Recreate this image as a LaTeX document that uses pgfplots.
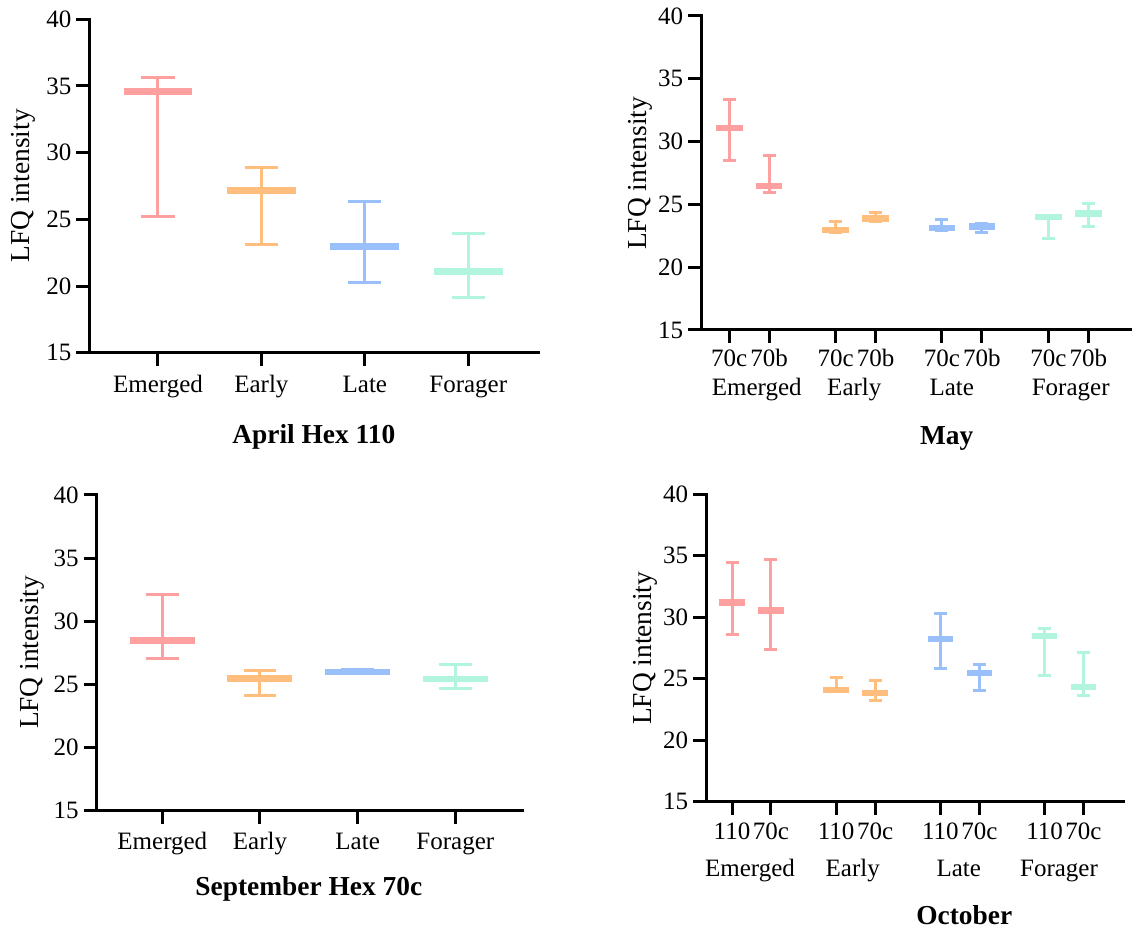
\documentclass[border=0pt]{standalone}
\usepackage{pgfplots}
\pgfplotsset{compat=1.18}
\usepackage{fontspec}
\setmainfont{Liberation Serif}
\definecolor{cpink}{RGB}{255,160,160}
\definecolor{corange}{RGB}{255,190,125}
\definecolor{cblue}{RGB}{153,192,250}
\definecolor{cmint}{RGB}{178,245,222}
\newcommand\tickfont{\fontsize{12.5}{15}\selectfont}
\newcommand\labfont{\fontsize{13.7}{16}\selectfont}
\pgfplotsset{
  panel/.style={
    scale only axis, clip=false,
    axis x line*=bottom, axis y line*=left,
    axis line style={-, line width=1.5pt, black, line cap=rect},
    ymin=15, ymax=40, ytick={15,20,25,30,35,40},
    tick align=outside, major tick length=6.5pt,
    every tick/.style={black, line width=1.5pt},
    tick label style={font=\tickfont, black},
    /pgf/number format/assume math mode=true,
    yticklabel style={inner sep=0pt, xshift=-2.3pt},
    minor tick num=0,
  },
  item/.style n args={3}{only marks, color=#1, mark=-, mark size=#2,
    mark options={line width=3.2pt, solid},
    error bars/.cd, y dir=both, y explicit,
    error bar style={line width=1.5pt, #1},
    error mark options={rotate=90, line width=1.5pt, mark size=#3, #1}},
}
\begin{document}
\begin{tikzpicture}
\useasboundingbox (0,0) rectangle (567.5pt,465.5pt);

% ---------------- April Hex 110 ----------------
\begin{axis}[panel, at={(44.65pt,289.15pt)}, anchor=south west, width=224.5pt, height=166.7pt,
  xmin=-0.664, xmax=3.677, xtick={0,1,2,3}, xticklabels={Emerged,Early,Late,Forager},
  xticklabel style={anchor=base, yshift=-13.65pt}]
\addplot[item={cpink}{17.2pt}{8.3pt}] table[x=x, y=m, y error plus expr=\thisrow{h}-\thisrow{m}, y error minus expr=\thisrow{m}-\thisrow{l}] {
x l m h
0 25.2 34.58 35.65
};
\addplot[item={corange}{17.2pt}{8.3pt}] table[x=x, y=m, y error plus expr=\thisrow{h}-\thisrow{m}, y error minus expr=\thisrow{m}-\thisrow{l}] {
x l m h
1 23.15 27.15 28.9
};
\addplot[item={cblue}{17.2pt}{8.3pt}] table[x=x, y=m, y error plus expr=\thisrow{h}-\thisrow{m}, y error minus expr=\thisrow{m}-\thisrow{l}] {
x l m h
2 20.25 22.95 26.35
};
\addplot[item={cmint}{17.2pt}{8.3pt}] table[x=x, y=m, y error plus expr=\thisrow{h}-\thisrow{m}, y error minus expr=\thisrow{m}-\thisrow{l}] {
x l m h
3 19.125 21.1 23.95
};
\end{axis}

% ---------------- May ----------------
\begin{axis}[panel, at={(350.5pt,300.5pt)}, anchor=south west, width=214.5pt, height=157pt,
  xmin=-0.4526, xmax=3.58,
  xtick={-0.1877,0.1877,0.8123,1.1877,1.8123,2.1877,2.8123,3.1877},
  xticklabels={70c,70b,70c,70b,70c,70b,70c,70b},
  xticklabel style={anchor=base, yshift=-11.85pt}]
\addplot[item={cpink}{6.67pt}{3.25pt}] table[x=x, y=m, y error plus expr=\thisrow{h}-\thisrow{m}, y error minus expr=\thisrow{m}-\thisrow{l}] {
x l m h
-0.1877 28.51 31.06 33.39
0.1877 25.96 26.47 28.91
};
\addplot[item={corange}{6.67pt}{3.25pt}] table[x=x, y=m, y error plus expr=\thisrow{h}-\thisrow{m}, y error minus expr=\thisrow{m}-\thisrow{l}] {
x l m h
0.8123 22.75 22.96 23.65
1.1877 23.63 23.89 24.34
};
\addplot[item={cblue}{6.67pt}{3.25pt}] table[x=x, y=m, y error plus expr=\thisrow{h}-\thisrow{m}, y error minus expr=\thisrow{m}-\thisrow{l}] {
x l m h
1.8123 22.95 23.12 23.76
2.1877 22.78 23.23 23.49
};
\addplot[item={cmint}{6.67pt}{3.25pt}] table[x=x, y=m, y error plus expr=\thisrow{h}-\thisrow{m}, y error minus expr=\thisrow{m}-\thisrow{l}] {
x l m h
2.8123 22.27 24.0 24.1
3.1877 23.25 24.26 25.11
};
\end{axis}

% ---------------- September Hex 70c ----------------
\begin{axis}[panel, at={(48.35pt,60.15pt)}, anchor=south west, width=213pt, height=157.85pt,
  xmin=-0.672, xmax=3.69, xtick={0,1,2,3}, xticklabels={Emerged,Early,Late,Forager},
  xticklabel style={anchor=base, yshift=-12.8pt}]
\addplot[item={cpink}{16.25pt}{8.1pt}] table[x=x, y=m, y error plus expr=\thisrow{h}-\thisrow{m}, y error minus expr=\thisrow{m}-\thisrow{l}] {
x l m h
0 27.04 28.49 32.13
};
\addplot[item={corange}{16.25pt}{8.1pt}] table[x=x, y=m, y error plus expr=\thisrow{h}-\thisrow{m}, y error minus expr=\thisrow{m}-\thisrow{l}] {
x l m h
1 24.16 25.48 26.11
};
\addplot[item={cblue}{16.25pt}{8.1pt}] table[x=x, y=m, y error plus expr=\thisrow{h}-\thisrow{m}, y error minus expr=\thisrow{m}-\thisrow{l}] {
x l m h
2 25.88 25.96 26.18
};
\addplot[item={cmint}{16.25pt}{8.1pt}] table[x=x, y=m, y error plus expr=\thisrow{h}-\thisrow{m}, y error minus expr=\thisrow{m}-\thisrow{l}] {
x l m h
3 24.69 25.43 26.54
};
\end{axis}

% ---------------- October ----------------
\begin{axis}[panel, at={(353pt,64.65pt)}, anchor=south west, width=208.65pt, height=153.7pt,
  xmin=-0.4368, xmax=3.569,
  xtick={-0.187,0.187,0.813,1.187,1.813,2.187,2.813,3.187},
  xticklabels={110,70c,110,70c,110,70c,110,70c},
  xticklabel style={anchor=base, yshift=-12.3pt}]
\addplot[item={cpink}{6.4pt}{3.25pt}] table[x=x, y=m, y error plus expr=\thisrow{h}-\thisrow{m}, y error minus expr=\thisrow{m}-\thisrow{l}] {
x l m h
-0.187 28.61 31.19 34.44
0.187 27.39 30.56 34.66
};
\addplot[item={corange}{6.4pt}{3.25pt}] table[x=x, y=m, y error plus expr=\thisrow{h}-\thisrow{m}, y error minus expr=\thisrow{m}-\thisrow{l}] {
x l m h
0.813 23.95 24.06 25.11
1.187 23.24 23.84 24.84
};
\addplot[item={cblue}{6.4pt}{3.25pt}] table[x=x, y=m, y error plus expr=\thisrow{h}-\thisrow{m}, y error minus expr=\thisrow{m}-\thisrow{l}] {
x l m h
1.813 25.82 28.23 30.32
2.187 24.08 25.49 26.12
};
\addplot[item={cmint}{6.4pt}{3.25pt}] table[x=x, y=m, y error plus expr=\thisrow{h}-\thisrow{m}, y error minus expr=\thisrow{m}-\thisrow{l}] {
x l m h
2.813 25.28 28.48 29.05
3.187 23.6 24.35 27.15
};
\end{axis}

% ---------------- text: y labels, group names, titles ----------------
\begin{scope}[every node/.style={inner sep=0pt}]
\node[rotate=90, font=\labfont] at (11.65pt,372.6pt) {LFQ intensity};
\node[rotate=90, font=\labfont] at (320pt,378.85pt) {LFQ intensity};
\node[rotate=90, font=\labfont] at (16.25pt,139.25pt) {LFQ intensity};
\node[rotate=90, font=\labfont] at (322.5pt,141.35pt) {LFQ intensity};

\node[anchor=base, font=\tickfont] at (378.35pt,267.65pt) {Emerged};
\node[anchor=base, font=\tickfont] at (427.15pt,267.65pt) {Early};
\node[anchor=base, font=\tickfont] at (475.85pt,267.65pt) {Late};
\node[anchor=base, font=\tickfont] at (535.35pt,267.65pt) {Forager};

\node[anchor=base, font=\tickfont] at (375pt,27.15pt) {Emerged};
\node[anchor=base, font=\tickfont] at (426.35pt,27.15pt) {Early};
\node[anchor=base, font=\tickfont] at (479.35pt,27.15pt) {Late};
\node[anchor=base, font=\tickfont] at (529.5pt,27.15pt) {Forager};

\node[anchor=base, font=\labfont\bfseries] at (156.9pt,243.85pt) {April Hex 110};
\node[anchor=base, font=\labfont\bfseries] at (473.35pt,243pt) {May};
\node[anchor=base, font=\labfont\bfseries] at (154.4pt,17.5pt) {September Hex 70c};
\node[anchor=base, font=\labfont\bfseries] at (482.15pt,3pt) {October};
\end{scope}
\end{tikzpicture}
\end{document}
